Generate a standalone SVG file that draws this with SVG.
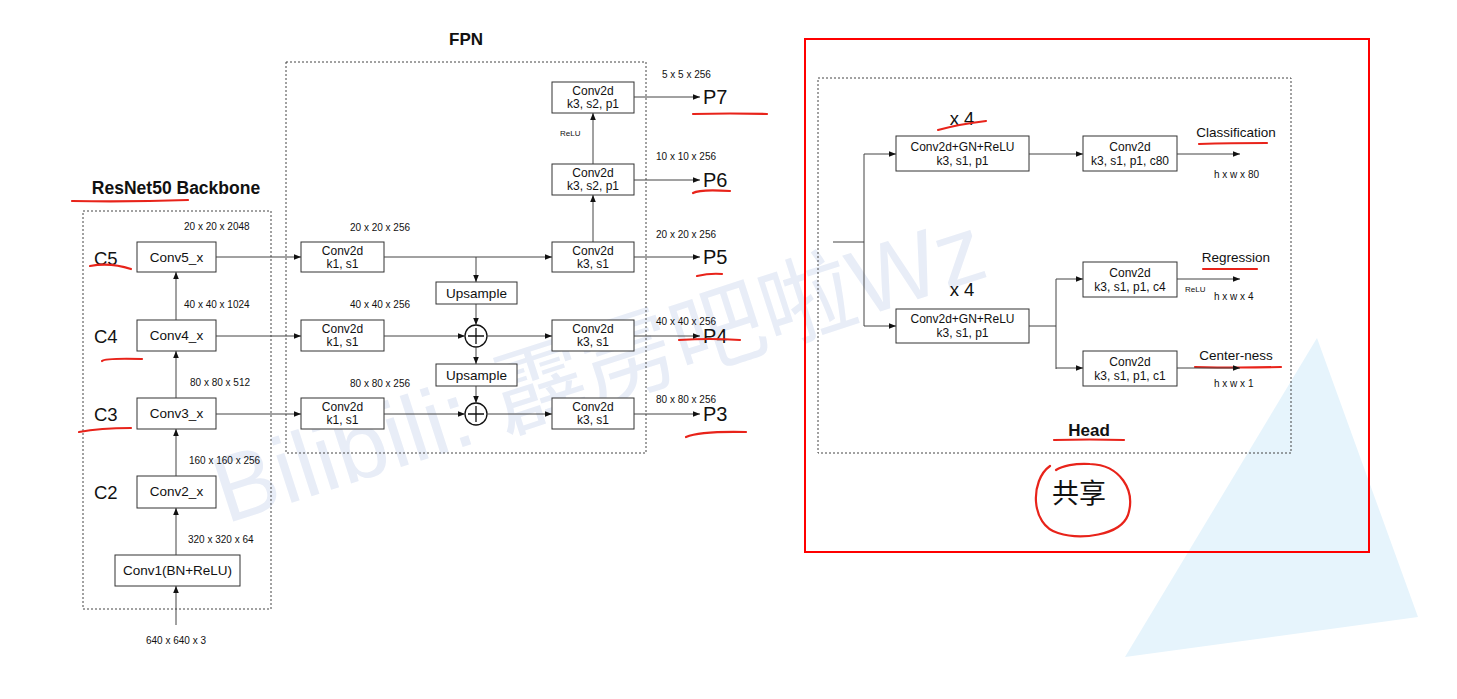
<svg xmlns="http://www.w3.org/2000/svg" width="1457" height="699" viewBox="0 0 1457 699">
<defs>
<marker id="ah" viewBox="0 0 10 10" refX="10" refY="5" markerWidth="7" markerHeight="7" markerUnits="userSpaceOnUse" orient="auto"><path d="M0,1 L10,5 L0,9 z" fill="#111"/></marker>
<style>
text{font-family:"Liberation Sans",Arial,sans-serif;fill:#111}
.box{fill:#fff;stroke:#333;stroke-width:1}
.dash{fill:none;stroke:#444;stroke-width:1;stroke-dasharray:2,2}
.ln{fill:none;stroke:#444;stroke-width:1}
.ar{fill:none;stroke:#444;stroke-width:1;marker-end:url(#ah)}
.bt{font-size:12px;text-anchor:middle}
.bt13{font-size:13.5px;text-anchor:middle}
.dim{font-size:10px}
.dimc{font-size:10px;text-anchor:middle}
.cl{font-size:18.5px}
.pl{font-size:20px}
.ttl{font-size:17px;font-weight:bold;text-anchor:middle}
.red{fill:none;stroke:#e8231a;stroke-width:2.2;stroke-linecap:round}
.sm{font-size:8px}
</style>
</defs>
<rect width="1457" height="699" fill="#fff"/>
<!-- watermark -->
<polygon points="1125,657 1317,338 1418,617" fill="#e6f4fc"/>
<text x="226" y="524" transform="rotate(-18 226 524)" style="font-size:94px;fill:#e8edf7;font-family:'Liberation Sans','Noto Sans CJK SC',sans-serif">Bilibili: 霹雳吧啦Wz</text>

<!-- Backbone -->
<g id="backbone">
<text x="176" y="194" class="ttl" style="font-size:17.5px">ResNet50 Backbone</text>
<path class="red" d="M72,201 Q130,202 188,200"/>
<rect x="83" y="211" width="188" height="398" class="dash"/>
</g>
<g id="conv5"><rect x="137" y="242" width="79" height="30" class="box"/><text x="176.5" y="262" class="bt13">Conv5_x</text>
<text x="94" y="265" class="cl">C5</text><path class="red" d="M90,266 Q110,262 131,269"/><text x="184" y="230" class="dim">20 x 20 x 2048</text></g>
<g id="conv4"><rect x="137" y="320" width="79" height="31" class="box"/><text x="176.5" y="340" class="bt13">Conv4_x</text>
<text x="94" y="343" class="cl">C4</text><path class="red" d="M102,361 Q105,358 142,359"/><text x="184" y="308" class="dim">40 x 40 x 1024</text></g>
<g id="conv3"><rect x="137" y="398" width="79" height="31" class="box"/><text x="176.5" y="418" class="bt13">Conv3_x</text>
<text x="94" y="421" class="cl">C3</text><path class="red" d="M79,432 Q100,428 131,428"/><text x="190" y="386" class="dim">80 x 80 x 512</text></g>
<g id="conv2"><rect x="137" y="476" width="79" height="32" class="box"/><text x="176.5" y="496" class="bt13">Conv2_x</text>
<text x="94" y="499" class="cl">C2</text><text x="189" y="464" class="dim">160 x 160 x 256</text></g>
<g id="conv1"><rect x="115" y="555" width="125" height="31" class="box"/><text x="177.5" y="575" class="bt13">Conv1(BN+ReLU)</text>
<text x="188" y="543" class="dim">320 x 320 x 64</text><text x="176" y="644" class="dimc">640 x 640 x 3</text></g>

<!-- FPN -->
<g id="fpn">
<text x="466" y="45" class="ttl">FPN</text>
<rect x="286" y="62" width="360" height="391" class="dash"/>
<text x="350" y="231" class="dim">20 x 20 x 256</text>
<text x="350" y="308" class="dim">40 x 40 x 256</text>
<text x="350" y="387" class="dim">80 x 80 x 256</text>
</g>
<g id="lat5"><rect x="301" y="242" width="83" height="30" class="box"/><text x="342.5" y="255" class="bt">Conv2d</text><text x="342.5" y="268" class="bt">k1, s1</text></g>
<g id="lat4"><rect x="301" y="320" width="83" height="31" class="box"/><text x="342.5" y="333" class="bt">Conv2d</text><text x="342.5" y="346" class="bt">k1, s1</text></g>
<g id="lat3"><rect x="301" y="398" width="83" height="31" class="box"/><text x="342.5" y="411" class="bt">Conv2d</text><text x="342.5" y="424" class="bt">k1, s1</text></g>
<g id="up1"><rect x="436" y="282" width="81" height="22" class="box"/><text x="476.5" y="298" class="bt13">Upsample</text></g>
<g id="up2"><rect x="436" y="364" width="81" height="22" class="box"/><text x="476.5" y="380" class="bt13">Upsample</text></g>
<g id="add1"><circle cx="476" cy="336" r="11" fill="#fff" stroke="#111" stroke-width="1.3"/><path d="M468,336 H484 M476,328 V344" stroke="#111" stroke-width="1.3"/></g>
<g id="add2"><circle cx="476" cy="414" r="11" fill="#fff" stroke="#111" stroke-width="1.3"/><path d="M468,414 H484 M476,406 V422" stroke="#111" stroke-width="1.3"/></g>
<g id="p5conv"><rect x="552" y="242" width="82" height="30" class="box"/><text x="593" y="255" class="bt">Conv2d</text><text x="593" y="268" class="bt">k3, s1</text></g>
<g id="p4conv"><rect x="552" y="320" width="82" height="31" class="box"/><text x="593" y="333" class="bt">Conv2d</text><text x="593" y="346" class="bt">k3, s1</text></g>
<g id="p3conv"><rect x="552" y="398" width="82" height="31" class="box"/><text x="593" y="411" class="bt">Conv2d</text><text x="593" y="424" class="bt">k3, s1</text></g>
<g id="p6conv"><rect x="552" y="164" width="82" height="31" class="box"/><text x="593" y="177" class="bt">Conv2d</text><text x="593" y="190" class="bt">k3, s2, p1</text></g>
<g id="p7conv"><rect x="552" y="82" width="82" height="31" class="box"/><text x="593" y="95" class="bt">Conv2d</text><text x="593" y="108" class="bt">k3, s2, p1</text></g>
<g id="outputs">
<text x="662" y="78" class="dim">5 x 5 x 256</text><text x="703" y="104" class="pl">P7</text><path class="red" d="M693,114 Q730,113 767,114"/>
<text x="656" y="160" class="dim">10 x 10 x 256</text><text x="703" y="187" class="pl">P6</text><path class="red" d="M693,193 Q700,189 730,191"/>
<text x="656" y="238" class="dim">20 x 20 x 256</text><text x="703" y="264" class="pl">P5</text><path class="red" d="M697,276 Q710,273 722,274"/>
<text x="656" y="325" class="dim">40 x 40 x 256</text><text x="703" y="343" class="pl">P4</text><path class="red" d="M679,340 Q710,338 740,340"/>
<text x="656" y="403" class="dim">80 x 80 x 256</text><text x="703" y="421" class="pl">P3</text><path class="red" d="M686,437 Q700,431 746,432"/>
<text x="560" y="136" class="sm">ReLU</text>
</g>

<!-- Head -->
<g id="head">
<rect x="805" y="39" width="564" height="513" fill="none" stroke="#ff0000" stroke-width="2"/>
<rect x="818" y="78" width="473" height="375" class="dash"/>
<text x="1089" y="436" class="ttl">Head</text><path class="red" d="M1054,440 Q1090,439 1124,440"/>
<path class="red" d="M1050,466 C1030,480 1030,525 1058,533 C1080,540 1120,536 1128,515 C1136,490 1120,465 1090,464 C1075,463 1062,466 1056,470"/>
<text x="1079" y="503" style="font-size:27px;text-anchor:middle;font-family:'Noto Sans CJK SC',sans-serif">共享</text>
</g>
<g id="cls_tower"><rect x="896" y="136" width="133" height="35" class="box"/><text x="962.5" y="151" class="bt">Conv2d+GN+ReLU</text><text x="962.5" y="165" class="bt">k3, s1, p1</text>
<text x="962" y="125" class="cl" text-anchor="middle">x 4</text><path class="red" d="M938,130 Q960,124 986,121"/></g>
<g id="reg_tower"><rect x="896" y="309" width="133" height="34" class="box"/><text x="962.5" y="323" class="bt">Conv2d+GN+ReLU</text><text x="962.5" y="337" class="bt">k3, s1, p1</text>
<text x="962" y="296" class="cl" text-anchor="middle">x 4</text></g>
<g id="cls_conv"><rect x="1083" y="136" width="94" height="35" class="box"/><text x="1130" y="151" class="bt">Conv2d</text><text x="1130" y="165" class="bt">k3, s1, p1, c80</text></g>
<g id="reg_conv"><rect x="1083" y="262" width="94" height="35" class="box"/><text x="1130" y="277" class="bt">Conv2d</text><text x="1130" y="291" class="bt">k3, s1, p1, c4</text></g>
<g id="ctr_conv"><rect x="1083" y="351" width="94" height="35" class="box"/><text x="1130" y="366" class="bt">Conv2d</text><text x="1130" y="380" class="bt">k3, s1, p1, c1</text></g>
<g id="head_labels">
<text x="1236" y="137" class="bt13">Classification</text><path class="red" d="M1199,144 Q1230,143 1267,143"/>
<text x="1214" y="178" class="dim">h x w x 80</text>
<text x="1236" y="262" class="bt13">Regression</text><path class="red" d="M1203,269 Q1230,269 1257,269"/>
<text x="1185" y="292" class="sm">ReLU</text><text x="1214" y="300" class="dim">h x w x 4</text>
<text x="1236" y="360" class="bt13">Center-ness</text><path class="red" d="M1195,367 Q1240,368 1281,367"/>
<text x="1214" y="387" class="dim">h x w x 1</text>
</g>

<!-- connectors -->
<g id="connectors">
<path class="ar" d="M176,625 V586"/>
<path class="ar" d="M176,555 V508"/>
<path class="ar" d="M176,476 V429"/>
<path class="ar" d="M176,398 V351"/>
<path class="ar" d="M176,320 V272"/>
<path class="ar" d="M216,257 H301"/>
<path class="ar" d="M216,336 H301"/>
<path class="ar" d="M216,414 H301"/>
<path class="ar" d="M384,257 H552"/>
<path class="ar" d="M476,257 V282"/>
<path class="ar" d="M476,304 V325"/>
<path class="ar" d="M384,336 H465"/>
<path class="ar" d="M487,336 H552"/>
<path class="ar" d="M476,347 V364"/>
<path class="ar" d="M476,386 V403"/>
<path class="ar" d="M384,414 H465"/>
<path class="ar" d="M487,414 H552"/>
<path class="ar" d="M593,242 V195"/>
<path class="ar" d="M593,164 V113"/>
<path class="ar" d="M634,97 H700"/>
<path class="ar" d="M634,180 H700"/>
<path class="ar" d="M634,257 H700"/>
<path class="ar" d="M634,336 H700"/>
<path class="ar" d="M634,414 H700"/>
<path class="ln" d="M833,242 H864 M864,154 V326"/>
<path class="ar" d="M864,154 H896"/>
<path class="ar" d="M864,326 H896"/>
<path class="ar" d="M1029,154 H1083"/>
<path class="ln" d="M1029,326 H1056 M1056,279 V369"/>
<path class="ar" d="M1056,279 H1083"/>
<path class="ar" d="M1056,368 H1083"/>
<path class="ar" d="M1177,154 H1240"/>
<path class="ar" d="M1177,279 H1240"/>
<path class="ar" d="M1177,368 H1240"/>
</g>
</svg>
